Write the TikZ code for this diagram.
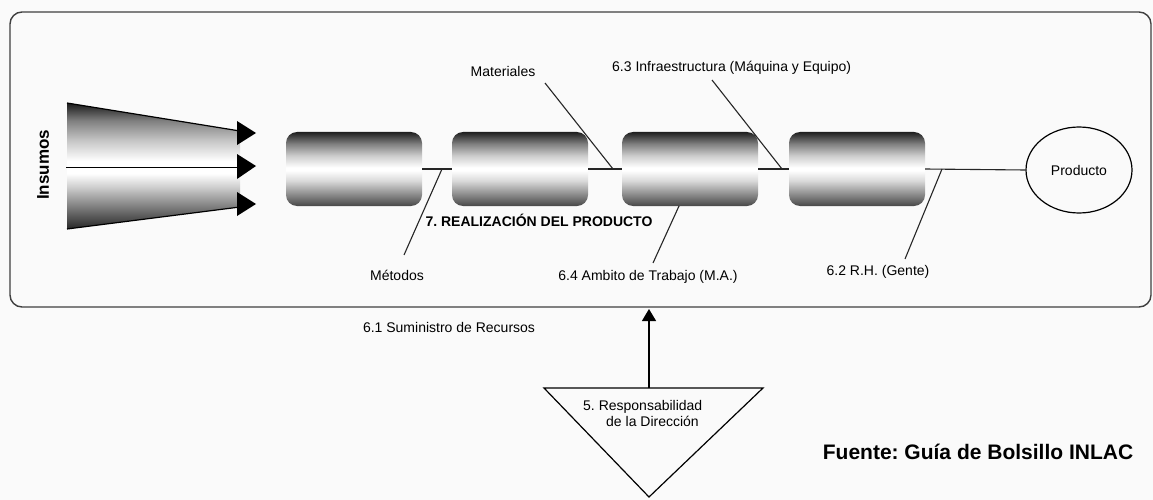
\documentclass[tikz,border=0pt]{standalone}
\usepackage{fontspec}
\setmainfont{Liberation Sans}
\frenchspacing
\usetikzlibrary{shapes.geometric,arrows.meta}
\pgfdeclareverticalshading{cylshade}{100bp}{color(0bp)=(black!72); color(25bp)=(black!72); color(33bp)=(black!45); color(42bp)=(black!15); color(49bp)=(white); color(51bp)=(white); color(59bp)=(black!20); color(67bp)=(black!50); color(75bp)=(black!88); color(100bp)=(black!88)}
\pgfdeclareverticalshading{funshade}{100bp}{color(0bp)=(black!85); color(25bp)=(black!85); color(34bp)=(black!50); color(42bp)=(black!18); color(47bp)=(white); color(52bp)=(white); color(60bp)=(black!22); color(68bp)=(black!50); color(75bp)=(black!90); color(100bp)=(black!90)}
\begin{document}
\begin{tikzpicture}[x=1pt,y=-1pt,
  lbl/.style={font=\fontsize{14}{16}\selectfont, inner sep=0pt},
  boldlbl/.style={font=\bfseries\fontsize{14}{16}\selectfont, inner sep=0pt},
  stage/.style={rounded corners=11pt, shading=cylshade, minimum width=136pt, minimum height=74pt, inner sep=0pt},
  link/.style={draw=black!85, line width=1.1pt},
  cause/.style={draw=black!85, line width=1.1pt}
]
\useasboundingbox (0,0) rectangle (1153,500);
\fill[white!98!black] (0,0) rectangle (1153,500);
% frame
\draw[black!75, line width=1.4pt, rounded corners=12pt] (10,12) rectangle (1151,307);
% funnel
\shade[shading=funshade] (67,103) -- (240,131) -- (240,207) -- (67,229) -- cycle;
\draw[black, line width=1.2pt] (67,103) -- (240,131);
\draw[black, line width=1.2pt] (67,229) -- (240,207);
\draw[black, line width=1pt] (66,167) -- (240,167);
\fill[black] (237,121) -- (256,133) -- (237,145) -- cycle;
\fill[black] (237,154) -- (256,166) -- (237,179) -- cycle;
\fill[black] (237,192) -- (256,204) -- (237,216) -- cycle;
\node[font=\bfseries\fontsize{17}{20}\selectfont, rotate=90, inner sep=0pt] (insumos) at (43,165) {Insumos};
% stages
\node[stage] (b1) at (354,169) {};
\node[stage] (b2) at (520,169) {};
\node[stage] (b3) at (690,169) {};
\node[stage] (b4) at (857,169) {};
\node[draw=black, line width=1.2pt, ellipse, minimum width=106pt, minimum height=86pt, inner sep=0pt, fill=white!98!black, font=\fontsize{14}{16}\selectfont] (prod) at (1079,170) {Producto};
\draw[link] (b1.east) -- (b2.west);
\draw[link] (b2.east) -- (b3.west);
\draw[link] (b3.east) -- (b4.west);
\draw[link] (b4.east) -- (prod.west);
% cause lines
\coordinate (jm) at (442,169);
\coordinate (em) at (404,255);
\coordinate (jmat) at (613,169);
\coordinate (emat) at (545,83);
\coordinate (jinf) at (782,169);
\coordinate (einf) at (712,80);
\coordinate (jamb) at (679,206);
\coordinate (eamb) at (653,263);
\coordinate (jrh) at (942,169);
\coordinate (erh) at (905,259);
\draw[cause] (em) -- (jm);
\draw[cause] (emat) -- (jmat);
\draw[cause] (einf) -- (jinf);
\draw[cause] (eamb) -- (jamb);
\draw[cause] (erh) -- (jrh);
\node[lbl] (tmet) at (397,275) {Métodos};
\node[lbl] (tmat) at (503,71) {Materiales};
\node[lbl, anchor=west] (tinf) at (612,68) {6.3 Infraestructura (Máquina y Equipo)};
\node[lbl] (tamb) at (648,277) {6.4 Ambito de Trabajo (M.A.)};
\node[lbl] (trh) at (878,272) {6.2 R.H. (Gente)};
\node[boldlbl] (treal) at (539,220) {7. REALIZACIÓN DEL PRODUCTO};
\node[lbl] (tsum) at (449,327) {6.1 Suministro de Recursos};
% direction triangle
\coordinate (tl) at (544,388);
\coordinate (tr) at (763,388);
\coordinate (tb) at (649,497);
\draw[black, line width=1.2pt, line join=miter] (tl) -- (tr) -- (tb) -- cycle;
\coordinate (ttop) at (649,388);
\coordinate (frameb) at (649,309);
\draw[black, line width=1.2pt, -{Triangle[length=12pt,width=14pt]}] (ttop) -- (frameb);
\node[lbl, align=left, anchor=north west, font=\fontsize{14}{16}\selectfont] (tresp) at (583,400) {5. Responsabilidad\\\hspace*{23pt}de la Dirección};
\node[font=\bfseries\fontsize{21}{24}\selectfont, inner sep=0pt] (fuente) at (978,452) {Fuente: Guía de Bolsillo INLAC};
\end{tikzpicture}
\end{document}
